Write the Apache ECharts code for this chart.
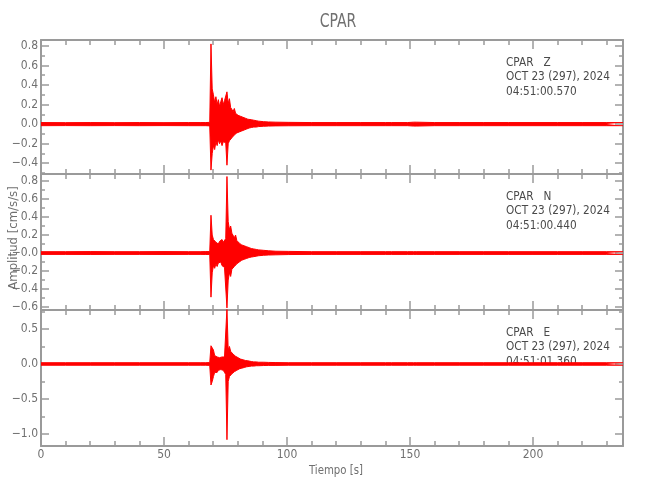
<!DOCTYPE html>
<html>
<head>
<meta charset="utf-8">
<script src="https://cdn.jsdelivr.net/npm/echarts@6/dist/echarts.min.js"></script>
<style>html,body{margin:0;padding:0;background:#fff}#c{width:650px;height:500px}</style>
</head>
<body>
<div id="c"></div>
<script>
// ---- DATA ----
const times = [0,10,20,30,40,50,60,65,67,68.6,
  69.1,69.6,70.1,70.6,71.1,71.6,72.1,72.6,73.1,73.6,74.1,74.6,75.1,75.6,76.1,76.6,77.1,77.6,78.1,78.6,79.1,79.6,80.1,80.6,81.1,81.6,82.1,82.6,83.1,83.6,84.1,84.6,
  85.5,86.5,87.5,88.5,90.5,92.5,95.5,100.5,
  110,120,130,140,
  142.5,143,143.5,149,151.5,152,152.5,
  160,170,180,190,200,210,220,230,236.6];

const zUpper = [0.016,0.015,0.016,0.015,0.016,0.015,0.016,0.016,0.016,0.018,
  0.82,0.36,0.30,0.22,0.28,0.20,0.25,0.18,0.23,0.27,0.20,0.24,0.22,0.33,0.21,0.26,0.17,0.19,0.13,0.16,0.11,0.13,0.09,0.10,0.08,0.09,0.07,0.07,0.06,0.06,0.05,0.05,
  0.045,0.04,0.035,0.03,0.025,0.022,0.02,0.018,
  0.016,0.016,0.016,0.016,
  0.016,0.035,0.016,0.016,0.02,0.035,0.02,
  0.016,0.016,0.016,0.016,0.016,0.016,0.016,0.016,0.016];
const zLower = [-0.016,-0.015,-0.016,-0.015,-0.016,-0.015,-0.016,-0.016,-0.016,-0.018,
  -0.47,-0.30,-0.22,-0.26,-0.18,-0.22,-0.16,-0.20,-0.17,-0.22,-0.18,-0.20,-0.19,-0.42,-0.20,-0.17,-0.19,-0.14,-0.15,-0.11,-0.12,-0.09,-0.09,-0.08,-0.07,-0.07,-0.06,-0.06,-0.05,-0.05,-0.045,-0.04,
  -0.035,-0.03,-0.03,-0.025,-0.022,-0.02,-0.018,-0.017,
  -0.016,-0.016,-0.016,-0.016,
  -0.016,-0.035,-0.016,-0.016,-0.02,-0.035,-0.02,
  -0.016,-0.016,-0.016,-0.016,-0.016,-0.016,-0.016,-0.016,-0.016];

const nUpper = [0.015,0.015,0.016,0.015,0.015,0.016,0.015,0.015,0.016,0.016,
  0.42,0.20,0.15,0.17,0.12,0.14,0.10,0.13,0.11,0.15,0.12,0.14,0.16,0.85,0.35,0.26,0.30,0.22,0.24,0.17,0.20,0.14,0.15,0.11,0.12,0.09,0.10,0.08,0.08,0.07,0.065,0.06,
  0.05,0.045,0.04,0.035,0.03,0.025,0.02,0.018,
  0.015,0.015,0.015,0.015,
  0.015,0.015,0.015,0.015,0.015,0.015,0.015,
  0.015,0.015,0.015,0.015,0.015,0.015,0.015,0.015,0.015];
const nLower = [-0.015,-0.015,-0.016,-0.015,-0.015,-0.016,-0.015,-0.015,-0.016,-0.016,
  -0.49,-0.22,-0.14,-0.17,-0.12,-0.15,-0.11,-0.13,-0.10,-0.14,-0.12,-0.16,-0.18,-0.61,-0.30,-0.22,-0.26,-0.18,-0.20,-0.15,-0.16,-0.12,-0.12,-0.10,-0.09,-0.08,-0.08,-0.07,-0.065,-0.06,-0.055,-0.05,
  -0.045,-0.04,-0.035,-0.03,-0.025,-0.022,-0.02,-0.017,
  -0.015,-0.015,-0.015,-0.015,
  -0.015,-0.015,-0.015,-0.015,-0.015,-0.015,-0.015,
  -0.015,-0.015,-0.015,-0.015,-0.015,-0.015,-0.015,-0.015,-0.015];

const eUpper = [0.018,0.018,0.018,0.018,0.018,0.018,0.018,0.018,0.018,0.02,
  0.26,0.24,0.20,0.12,0.14,0.10,0.12,0.09,0.11,0.10,0.12,0.10,0.11,0.80,0.20,0.25,0.18,0.20,0.14,0.16,0.11,0.12,0.09,0.09,0.07,0.07,0.06,0.06,0.05,0.05,0.045,0.04,
  0.035,0.03,0.03,0.025,0.025,0.022,0.02,0.018,
  0.018,0.018,0.018,0.018,
  0.018,0.018,0.018,0.018,0.018,0.018,0.018,
  0.018,0.018,0.018,0.018,0.018,0.018,0.018,0.018,0.018];
const eLower = [-0.018,-0.018,-0.018,-0.018,-0.018,-0.018,-0.018,-0.018,-0.018,-0.02,
  -0.30,-0.25,-0.18,-0.12,-0.10,-0.12,-0.09,-0.11,-0.08,-0.10,-0.09,-0.12,-0.15,-1.08,-0.25,-0.18,-0.20,-0.14,-0.15,-0.11,-0.10,-0.09,-0.08,-0.07,-0.06,-0.06,-0.05,-0.05,-0.045,-0.04,-0.04,-0.035,
  -0.03,-0.03,-0.025,-0.025,-0.022,-0.02,-0.02,-0.018,
  -0.018,-0.018,-0.018,-0.018,
  -0.018,-0.018,-0.018,-0.018,-0.018,-0.018,-0.018,
  -0.018,-0.018,-0.018,-0.018,-0.018,-0.018,-0.018,-0.018,-0.018];

// axis ranges and ticks
const xRange = [0, 236.6];
const xMajorTicks = [0, 50, 100, 150, 200];
const xMinorTicks = [0,10,20,30,40,50,60,70,80,90,100,110,120,130,140,150,160,170,180,190,200,210,220,230];
const xTickLabels = ['0', '50', '100', '150', '200'];

const zRange = [-0.51, 0.86];
const zMajorTicks = [0.8, 0.6, 0.4, 0.2, 0.0, -0.2, -0.4];
const zTickLabels = ['0.8', '0.6', '0.4', '0.2', '0.0', '\u22120.2', '\u22120.4'];
const zMinorTicks = [-0.5,-0.4,-0.3,-0.2,-0.1,0,0.1,0.2,0.3,0.4,0.5,0.6,0.7,0.8];

const nRange = [-0.633, 0.878];
const nMajorTicks = [0.8, 0.6, 0.4, 0.2, 0.0, -0.2, -0.4, -0.6];
const nTickLabels = ['0.8', '0.6', '0.4', '0.2', '\u22120.0', '\u22120.2', '\u22120.4', '\u22120.6'];
const nMinorTicks = [-0.6,-0.5,-0.4,-0.3,-0.2,-0.1,0,0.1,0.2,0.3,0.4,0.5,0.6,0.7,0.8];

const eRange = [-1.17, 0.77];
const eMajorTicks = [0.5, 0.0, -0.5, -1.0];
const eTickLabels = ['0.5', '0.0', '\u22120.5', '\u22121.0'];
const eMinorTicks = [-1.0,-0.75,-0.5,-0.25,0,0.25,0.5,0.75];

const stationInfo = [
  ['CPAR   Z', 'OCT 23 (297), 2024', '04:51:00.570'],
  ['CPAR   N', 'OCT 23 (297), 2024', '04:51:00.440'],
  ['CPAR   E', 'OCT 23 (297), 2024', '04:51:01.360']
];

// ---- CHART ----
const FONT = '"DejaVu Sans Condensed", "Liberation Sans Narrow", sans-serif';
const AX = '#9a9a9a';
const LBL = '#707070';
const RED = '#ff0000';

const panels = [
  {top: 40, height: 134, range: zRange, major: zMajorTicks, minor: zMinorTicks, labels: zTickLabels, up: zUpper, lo: zLower, info: stationInfo[0]},
  {top: 174, height: 136, range: nRange, major: nMajorTicks, minor: nMinorTicks, labels: nTickLabels, up: nUpper, lo: nLower, info: stationInfo[1]},
  {top: 310, height: 136, range: eRange, major: eMajorTicks, minor: eMinorTicks, labels: eTickLabels, up: eUpper, lo: eLower, info: stationInfo[2]}
];

const grid = [], xAxis = [], yAxis = [], series = [], graphic = [];
const GL = 41, GW = 582;

panels.forEach((p, i) => {
  grid.push({left: GL, top: p.top, width: GW, height: p.height});
  const isBottom = i === panels.length - 1;
  const xBase = xAxis.length;
  [['bottom', xMajorTicks, 9, true], ['bottom', xMinorTicks, 5, false], ['top', xMajorTicks, 9, false], ['top', xMinorTicks, 5, false]].forEach(([pos, ticks, len, main]) => {
    xAxis.push({
      type: 'value', gridIndex: i, position: pos, min: xRange[0], max: xRange[1],
      axisLine: {show: main || (pos === 'top' && len === 9), onZero: false, lineStyle: {color: AX, width: 2}},
      axisTick: {show: true, inside: true, length: len, customValues: ticks, lineStyle: {color: AX, width: 1.5}},
      axisLabel: {show: main && isBottom, customValues: xMajorTicks, margin: 3, color: LBL, fontFamily: FONT, fontSize: 12,
        formatter: v => { const k = xMajorTicks.findIndex(t => Math.abs(t - v) < 1e-6); return k >= 0 ? xTickLabels[k] : ''; }},
      splitLine: {show: false}
    });
  });
  const yBase = yAxis.length;
  [['left', p.major, 8, true], ['left', p.minor, 4, false], ['right', p.major, 8, false], ['right', p.minor, 4, false]].forEach(([pos, ticks, len, main]) => {
    yAxis.push({
      type: 'value', gridIndex: i, position: pos, min: p.range[0], max: p.range[1],
      axisLine: {show: main || (pos === 'right' && len === 8), onZero: false, lineStyle: {color: AX, width: 2}},
      axisTick: {show: true, inside: true, length: len, customValues: ticks, lineStyle: {color: AX, width: 1.5}},
      axisLabel: {show: main, customValues: p.major, margin: 3, color: LBL, fontFamily: FONT, fontSize: 12,
        formatter: v => { const k = p.major.findIndex(t => Math.abs(t - v) < 1e-6); return k >= 0 ? p.labels[k] : ''; }},
      splitLine: {show: false}
    });
  });
  [p.up, p.lo].forEach(vals => {
    series.push({
      type: 'line', xAxisIndex: xBase, yAxisIndex: yBase,
      data: times.map((t, k) => [t, vals[k]]),
      showSymbol: false, symbol: 'none', silent: true, animation: false,
      lineStyle: {color: RED, width: 1},
      areaStyle: {color: RED, opacity: 1, origin: 0}
    });
  });
  p.info.forEach((txt, k) => {
    graphic.push({type: 'text', x: 506, y: p.top + 16 + k * 14.5, scaleX: 0.9,
      style: {text: txt, fill: '#4a4a4a', font: '13px ' + FONT}});
  });
});

graphic.push({type: 'text', x: 338, y: 22, scaleX: 0.78, style: {text: 'CPAR', fill: '#707070', font: '20px ' + FONT, textAlign: 'center', textVerticalAlign: 'middle'}});
graphic.push({type: 'text', x: 336, y: 471, scaleX: 0.87, style: {text: 'Tiempo [s]', fill: LBL, font: '13px ' + FONT, textAlign: 'center', textVerticalAlign: 'middle'}});
graphic.push({type: 'text', x: 14, y: 238, rotation: Math.PI / 2, style: {text: 'Amplitud [cm/s/s]', fill: LBL, font: '13px ' + FONT, textAlign: 'center', textVerticalAlign: 'middle'}});

const chart = echarts.init(document.getElementById('c'), null, {renderer: 'canvas'});
chart.setOption({animation: false, backgroundColor: '#fff', grid, xAxis, yAxis, series, graphic});
</script>
</body>
</html>
